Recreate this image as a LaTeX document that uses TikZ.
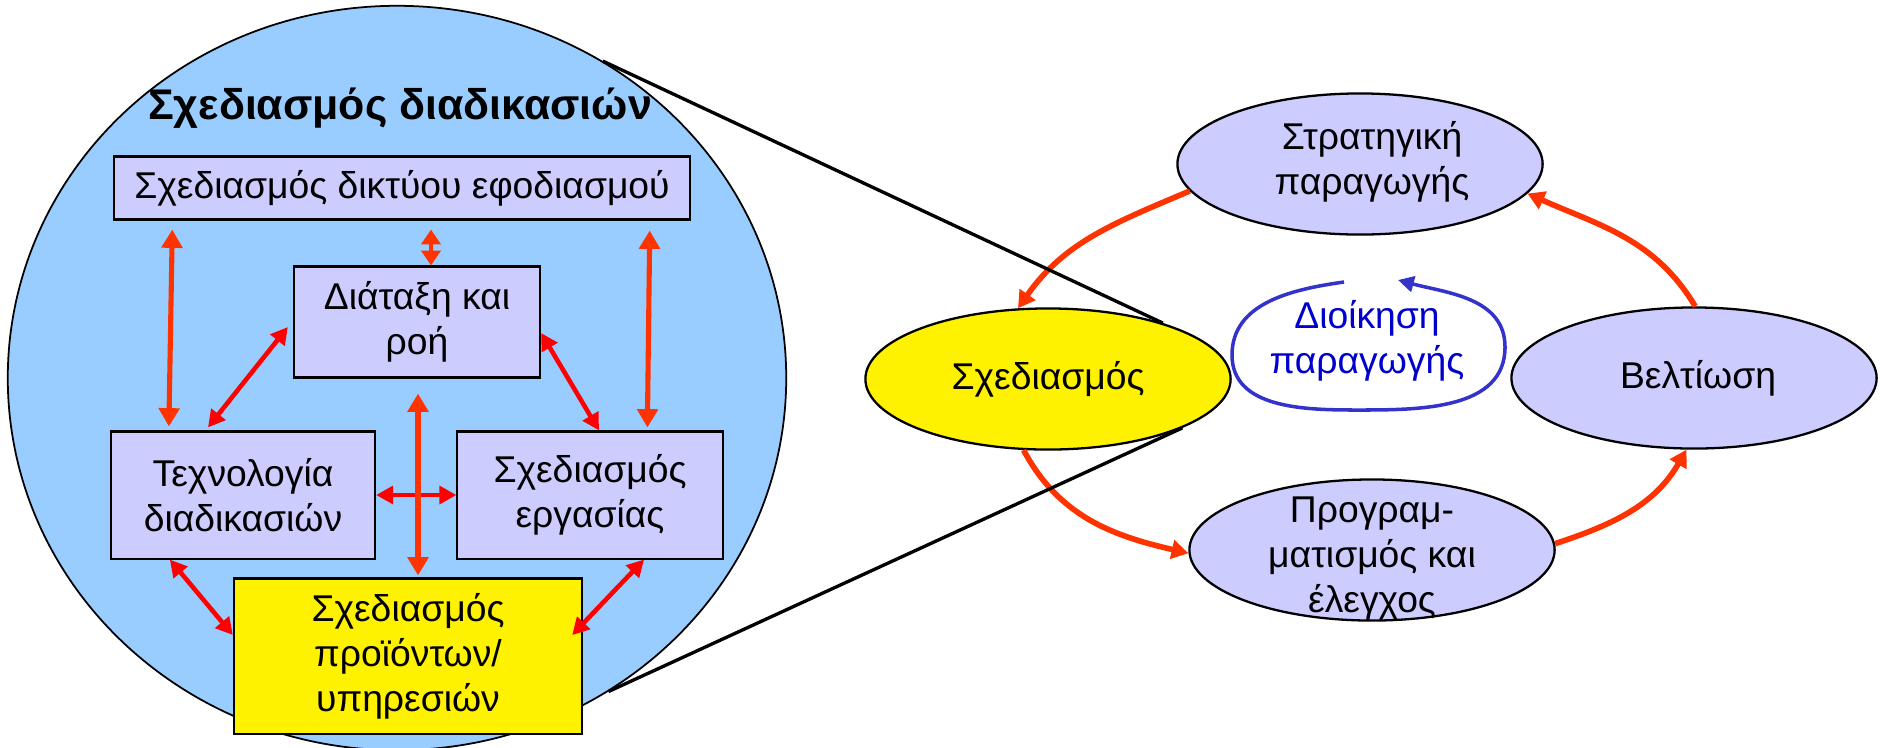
\documentclass[tikz,border=0pt]{standalone}
\usepackage{fontspec}
\setmainfont{Liberation Sans}
\usetikzlibrary{arrows.meta, positioning, shapes.geometric, calc}

\definecolor{skyblue}{HTML}{99CCFF}
\definecolor{lavender}{HTML}{CCCCFF}
\definecolor{arrowred}{HTML}{FF3300}
\definecolor{loopblue}{HTML}{3333CC}
\definecolor{mgmtblue}{HTML}{0000CC}

\newcommand{\boxfont}{\fontsize{10.6}{12.8}\selectfont}

\tikzset{
  procbox/.style={rectangle, draw=black, line width=0.6pt, fill=lavender, align=center, inner sep=0pt},
  stage/.style={ellipse, draw=black, line width=0.65pt, fill=lavender, inner sep=0pt,
    minimum width=3.65cm, minimum height=1.41cm},
  stagetext/.style={align=center, inner sep=0pt},
  link/.style={{Triangle[length=5.2pt,width=5.8pt]}-{Triangle[length=5.2pt,width=5.8pt]},
    line width=1.45pt, arrowred},
  shortlink/.style={{Triangle[length=4.2pt,width=5.4pt]}-{Triangle[length=4.2pt,width=5.4pt]},
    line width=1.2pt, arrowred},
  diaglink/.style={{Triangle[length=4.8pt,width=5pt]}-{Triangle[length=4.8pt,width=5pt]},
    line width=1.3pt, red},
  cyclearrow/.style={-{Triangle[length=4.8pt,width=5.3pt]}, line width=1.6pt, arrowred},
  mgmtloop/.style={-{Triangle[length=4.5pt,width=4.5pt]}, line width=1pt, loopblue},
  zoomline/.style={line width=0.95pt, black},
}

\begin{document}
\begin{tikzpicture}[x=0.01cm, y=0.01cm, font=\boxfont]
  \useasboundingbox (0,0) rectangle (1880,747);

  % process design (left)
  \node[ellipse, draw=black, line width=0.5pt, fill=skyblue, inner sep=0pt,
    minimum width=7.78cm, minimum height=7.44cm] (proc) at (397,369) {};
  \node[font=\fontsize{12.2}{14}\selectfont\bfseries, anchor=base, inner sep=0pt] (proctitle) at (400,628) {Σχεδιασμός διαδικασιών};

  \node[procbox, minimum width=5.75cm, minimum height=0.63cm] (supply) at (402,559) {Σχεδιασμός δικτύου εφοδιασμού};
  \node[procbox, minimum width=2.46cm, minimum height=1.11cm] (layout) at (417,425) {Διάταξη και\\ροή};
  \node[procbox, minimum width=2.64cm, minimum height=1.27cm] (tech) at (243,252) {Τεχνολογία\\διαδικασιών};
  \node[procbox, minimum width=2.65cm, minimum height=1.27cm] (work) at (590,252) {Σχεδιασμός\\εργασίας};
  \node[procbox, fill=yellow, minimum width=3.48cm, minimum height=1.55cm] (product) at (408,91) {Σχεδιασμός\\προϊόντων/\\υπηρεσιών};

  \draw[link] ($(supply.south west)+(59,-9)$) -- ($(tech.north west)+(59,4)$);
  \draw[shortlink] ($(supply.south)+(29,-9)$) -- ($(layout.north)+(14,0)$);
  \draw[link] ($(supply.south east)+(-41,-10)$) -- ($(work.north west)+(191,3)$);
  \draw[diaglink] ($(tech.north)+(-35,3)$) -- ($(layout.west)+(-5,-5)$);
  \draw[diaglink] ($(layout.east)+(0,-11)$) -- ($(work.north)+(9,0)$);
  \draw[diaglink] (tech.east) -- (work.west);
  \draw[link] ($(layout.south)+(1,-15)$) -- ($(product.north)+(10,2)$);
  \draw[diaglink] ($(tech.south west)+(60,0)$) -- ($(product.west)+(0,21)$);
  \draw[diaglink] ($(work.south)+(54,0)$) -- ($(product.east)+(-11,21)$);

  % production management cycle (right)
  \node[stage] (strat) at (1360,583) {};
  \node[stage, fill=yellow] (design) at (1048,368) {};
  \node[stage] (impr) at (1694,369) {};
  \node[stage] (prog) at (1372,197) {};
  \node[stagetext] (strat-txt) at (1372,585) {Στρατηγική\\παραγωγής};
  \node[stagetext] (design-txt) at (1048,368) {Σχεδιασμός};
  \node[stagetext] (impr-txt) at (1698,369) {Βελτίωση};
  \node[stagetext] (prog-txt) at (1372,188) {Προγραμ-\\ματισμός και\\έλεγχος};

  \draw[cyclearrow] (strat.189) to[out=203, in=55] (design.113);
  \draw[cyclearrow] (design.251) to[out=-62, in=167] (prog.181);
  \draw[cyclearrow] (prog.2) to[out=18, in=-120] (impr.264);
  \draw[cyclearrow] (impr.89) to[out=121, in=-24] (strat.350);

  % zoom lines
  \draw[zoomline] (proc.57) -- (design.26);
  \draw[zoomline] (proc.-56) -- (design.-20);

  % management loop
  \coordinate (loop-start) at (1344,465);
  \coordinate (loop-w) at (1232,392);
  \coordinate (loop-s) at (1357,337);
  \coordinate (loop-e) at (1505,400);
  \coordinate (loop-end) at (1398,467);
  \draw[mgmtloop] (loop-start) to[out=188, in=90] (loop-w) to[out=-90, in=180] (loop-s)
    to[out=0, in=-90] (loop-e) to[out=90, in=-15] (loop-end);
  \node[stagetext, text=mgmtblue] (mgmt) at (1367,406) {Διοίκηση\\παραγωγής};
\end{tikzpicture}
\end{document}
